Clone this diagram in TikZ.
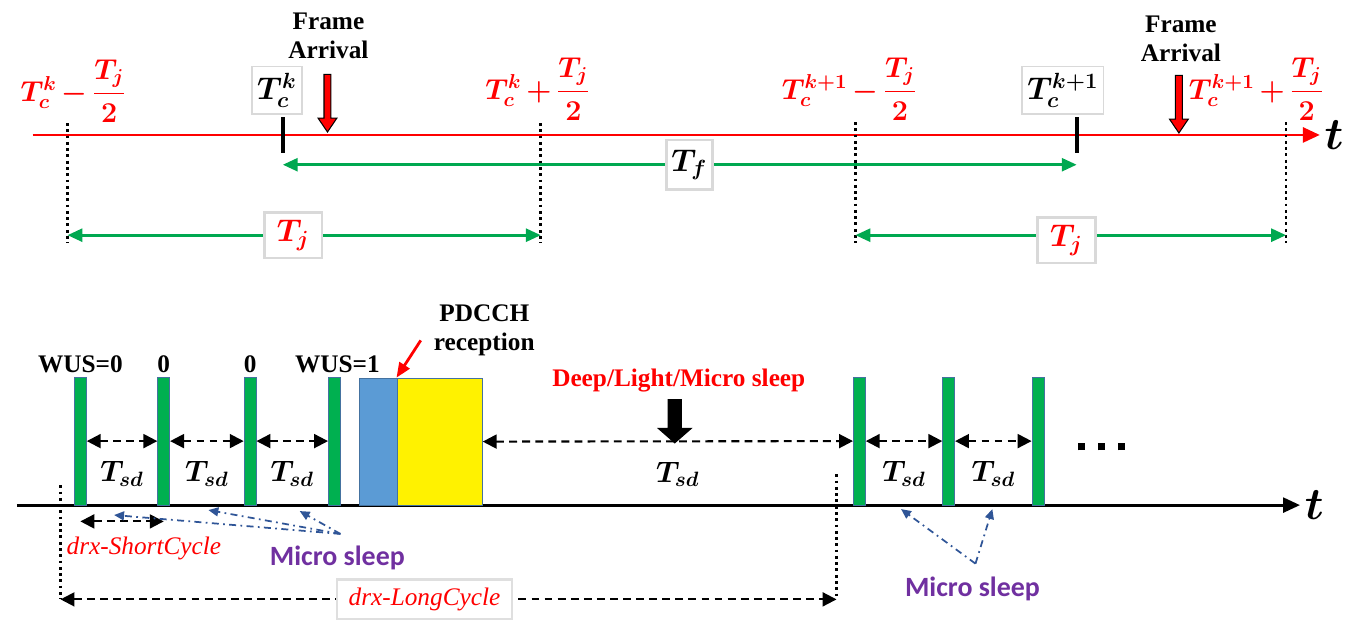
\RequirePackage{fix-cm}
\documentclass[tikz,border=0pt]{standalone}
\usepackage{amsmath,amssymb,bm}
\usepackage{fontspec}
\setmainfont{Liberation Serif}
\newfontfamily\calib{Carlito}
\usepackage{xcolor}
\usetikzlibrary{arrows.meta,positioning,calc}

\definecolor{tred}{RGB}{255,0,0}
\definecolor{tgreen}{RGB}{0,168,80}
\definecolor{bargreen}{RGB}{0,176,80}
\definecolor{barblue}{RGB}{68,114,160}
\definecolor{pdblue}{RGB}{91,155,213}
\definecolor{msblue}{RGB}{47,85,151}
\definecolor{mspurple}{RGB}{112,48,160}

\newcommand{\half}[2]{\boldsymbol{#1\mskip-1mu#2\mskip-1mu\dfrac{T_j}{2}}}

\begin{document}
\begin{tikzpicture}[x=0.02cm, y=-0.02cm, thick]
        \tikzset{
            redlbl/.style={text=tred, font=\fontsize{16.5}{19}\selectfont, inner sep=1pt},
            stamp/.style={draw=gray!30, fill=white, solid, inner sep=3pt, minimum height=0.96cm, font=\fontsize{18}{20}\selectfont},
            jbox/.style={stamp, text=tred, minimum width=1.16cm, minimum height=0.92cm},
            guide/.style={draw=black, line width=1.6pt, dash pattern=on 1.6pt off 2pt},
            tickmark/.style={draw=black, line width=2.2pt},
            jit/.style={draw=tgreen, line width=1.6pt, {Triangle[length=0.3cm,width=0.26cm]}-{Triangle[length=0.3cm,width=0.26cm]}},
            taxis/.style={draw=tred, line width=1.6pt, -{Triangle[length=0.34cm,width=0.3cm]}},
            baxis/.style={draw=black, line width=1.6pt, -{Triangle[length=0.34cm,width=0.3cm]}},
            frame arrow/.pic={\draw[pic actions] (-3.5,0) -- (3.5,0) -- (3.5,44) -- (9.5,44) -- (0,58) -- (-9.5,44) -- (-3.5,44) -- cycle;},
            sleep arrow/.pic={\draw[pic actions] (-6.5,0) -- (6.5,0) -- (6.5,29) -- (16,29) -- (0,43) -- (-16,29) -- (-6.5,29) -- cycle;},
            bar/.style={draw=barblue, fill=bargreen, line width=0.5pt, minimum width=0.24cm, minimum height=2.58cm, inner sep=0pt},
            sdarr/.style={draw=black, line width=1.2pt, dash pattern=on 4.5pt off 3pt, {Triangle[length=0.28cm,width=0.28cm]}-{Triangle[length=0.28cm,width=0.28cm]}},
            mslink/.style={draw=msblue, line width=1pt, dash pattern=on 4pt off 2.5pt on 1pt off 2.5pt, -{Triangle[length=0.2cm,width=0.18cm]}},
            head/.style={font=\fontsize{14.5}{17}\selectfont\bfseries, align=center, inner sep=1pt},
            tsd/.style={font=\fontsize{17}{19}\selectfont},
            tlbl/.style={font=\fontsize{26}{28}\selectfont, inner sep=2pt},
            mslbl/.style={text=mspurple, font=\calib\fontsize{16}{18}\selectfont\bfseries},
            drx/.style={text=tred, font=\fontsize{14.5}{17}\selectfont\itshape}
        }

        % Frame timeline
        \draw [taxis] (33,136) -- (1330,136) node[right, tlbl] {$\boldsymbol{t}$};

        \node [redlbl] (lo1) at (74,92) {$\half{T_c^k}{-}$};
        \node [redlbl] (hi1) at (542,90) {$\half{T_c^k}{+}$};
        \node [redlbl] (lo2) at (856,90) {$\half{T_c^{k+1}}{-}$};
        \node [redlbl] (hi2) at (1266,90) {$\half{T_c^{k+1}}{+}$};

        \node [stamp] (ck1) at (279,91) {$\boldsymbol{T_c^k}$};
        \node [stamp] (ck2) at (1071,91) {$\boldsymbol{T_c^{k+1}}$};

        \node [head] (fr1) at (331,36) {Frame\\Arrival};
        \node [head] (fr2) at (1190,39) {Frame\\Arrival};
        \pic [fill=tred, draw=black, line width=0.6pt] (fa1) at (330,75) {frame arrow};
        \pic [fill=tred, draw=black, line width=0.6pt] (fa2) at (1188,76) {frame arrow};

        % Jitter window guides
        \coordinate (g1) at (68,237);
        \coordinate (g2) at (545,237);
        \coordinate (g3) at (862,237);
        \coordinate (g4) at (1296,237);
        \draw [guide] (68,124) -- (g1) -- +(0,8);
        \draw [guide] (545,124) -- (g2) -- +(0,8);
        \draw [guide] (862,123) -- (g3) -- +(0,8);
        \draw [guide] (1296,123) -- (g4) -- +(0,8);

        \coordinate (tk1) at (285,136);
        \coordinate (tk2) at (1085,136);
        \draw [tickmark] ($(tk1)+(0,-18)$) -- ($(tk1)+(0,18)$);
        \draw [tickmark] ($(tk2)+(0,-18)$) -- ($(tk2)+(0,18)$);

        \draw [jit] ($(tk1)+(0,30)$) -- node[stamp, pos=0.512, minimum width=0.74cm, minimum height=1cm] {$\boldsymbol{T_f}$} ($(tk2)+(0,30)$);
        \draw [jit] (g1) -- node[jbox, pos=0.477] {$\boldsymbol{T_j}$} (g2);
        \draw [jit] (g3) -- node[jbox, pos=0.49, yshift=-0.1cm] {$\boldsymbol{T_j}$} (g4);

        % DRX timeline
        \draw [baxis] (17,509) -- (1310,509) node[right, tlbl] {$\boldsymbol{t}$};

        \foreach \n/\x in {1/81,2/165,3/252,4/337,5/866,6/956,7/1046}
            \node [bar] (w\n) at (\x,444.5) {};

        \node [draw=barblue, fill=pdblue, line width=0.5pt, minimum width=0.76cm, minimum height=2.56cm, inner sep=0pt] (blu) at (381,445) {};
        \node [draw=barblue, fill=yellow, line width=0.5pt, minimum width=1.72cm, minimum height=2.56cm, inner sep=0pt] (yel) at (443,445) {};

        \node [head, above=1pt of w1] (s1) {WUS=0};
        \node [head, above=1pt of w2] (s2) {0};
        \node [head, above=1pt of w3] (s3) {0};
        \node [head, above=1pt of w4, xshift=0.06cm] (s4) {WUS=1};

        \node [head] (pdcch) at (488,333) {PDCCH\\reception};
        \coordinate (pd) at (424,343);
        \draw [draw=tred, line width=1.6pt, -{Triangle[length=0.3cm,width=0.24cm]}] (pd) -- (yel.north west);

        \node [head, text=tred] (deep) at (684,383) {Deep/Light/Micro sleep};
        \pic [fill=black, draw=black] (dn) at (680,403) {sleep arrow};

        % Short durations
        \foreach \a/\b in {1/2,2/3,3/4,5/6,6/7}
            \draw [sdarr] (w\a.east) -- node[tsd, midway, yshift=-0.66cm] {$\boldsymbol{T_{sd}}$} (w\b.west);
        \draw [sdarr] (yel.east) -- node[tsd, midway, yshift=-0.66cm, xshift=0.2cm] {$\boldsymbol{T_{sd}}$} (w5.west);

        \node (more) at (1110,450) {\rule{0.15cm}{0.15cm}\hspace{0.25cm}\rule{0.15cm}{0.15cm}\hspace{0.25cm}\rule{0.15cm}{0.15cm}};

        % Cycles
        \draw [sdarr] ($(w1.south)+(0,16)$) -- ($(w2.south)+(0,16)$);
        \node [drx] (short) at (145,553) {drx-ShortCycle};

        \coordinate (ls) at (61,604);
        \coordinate (le) at (843,604);
        \draw [guide] (61,489) -- (ls);
        \draw [guide] (843,478) -- (le);
        \draw [sdarr] (ls) -- node[drx, pos=0.469, draw=gray!25, fill=white, solid, minimum width=3.52cm, minimum height=0.8cm] {drx-LongCycle} (le);

        % Micro sleep pointers
        \node [mslbl] (ms1) at (340,562) {Micro sleep};
        \coordinate (m1) at (343,538);
        \draw [mslink] (m1) -- (115,519);
        \draw [mslink] (m1) -- (210,514);
        \draw [mslink] (m1) -- (302,515);

        \node [mslbl] (ms2) at (980,593) {Micro sleep};
        \coordinate (m2) at (983,568);
        \draw [mslink] (m2) -- (908,513);
        \draw [mslink] (m2) -- (1000,513);

        \useasboundingbox (0,0) rectangle (1347,621);
\end{tikzpicture}
\end{document}
